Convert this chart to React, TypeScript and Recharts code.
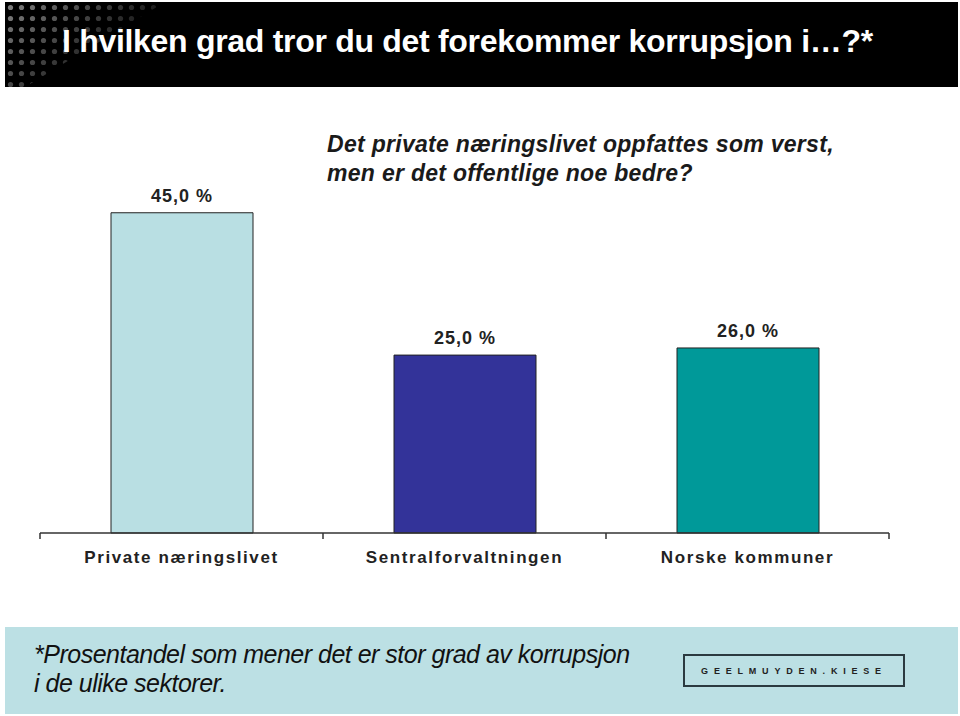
import { BarChart, Bar, XAxis, YAxis, Cell, LabelList } from "recharts";

const categories = ["Private næringslivet", "Sentralforvaltningen", "Norske kommuner"];
const values = [45.0, 25.0, 26.0];
const barColors = ["#B9DFE3", "#333399", "#009999"];

const data = categories.map((name, i) => ({ name, value: values[i] }));

const FONT = "'Liberation Sans', Arial, sans-serif";

const fmt = (v: number) => `${v.toFixed(1).replace(".", ",")} %`;

// category label plus the band-boundary tick marks under the axis line
const CategoryTick = (props: any) => {
  const { x, y, payload, index } = props;
  const half = payload.offset ?? 0;
  return (
    <g>
      {index === 0 && <line x1={x - half} x2={x - half} y1={y} y2={y + 6} stroke="#333" strokeWidth={1.5} />}
      <line x1={x + half} x2={x + half} y1={y} y2={y + 6} stroke="#333" strokeWidth={1.5} />
      <text
        x={x}
        y={y + 30}
        textAnchor="middle"
        fontFamily={FONT}
        fontWeight="bold"
        fontSize={17}
        letterSpacing={1.6}
        fill="#222"
      >
        {payload.value}
      </text>
    </g>
  );
};

const TitleBar = () => (
  <div
    style={{
      position: "absolute",
      left: 5,
      top: 2,
      width: 953,
      height: 85,
      background: "#000",
      overflow: "hidden",
    }}
  >
    <svg width={953} height={85} style={{ position: "absolute", left: 0, top: 0 }}>
      <defs>
        <pattern id="dots" width="11" height="11" patternUnits="userSpaceOnUse">
          <circle cx="5.5" cy="5.5" r="2.6" fill="#9a9a9a" />
        </pattern>
        <linearGradient id="fade" x1="0" y1="0" x2="1" y2="0.55">
          <stop offset="0" stopColor="#fff" stopOpacity={0.85} />
          <stop offset="0.55" stopColor="#fff" stopOpacity={0.35} />
          <stop offset="1" stopColor="#fff" stopOpacity={0} />
        </linearGradient>
        <mask id="dotMask">
          <polygon points="0,0 160,0 20,85 0,85" fill="url(#fade)" />
        </mask>
      </defs>
      <rect x={0} y={0} width={170} height={85} fill="url(#dots)" mask="url(#dotMask)" />
    </svg>
    <div
      style={{
        position: "absolute",
        left: 57,
        top: 20,
        color: "#fff",
        fontFamily: FONT,
        fontWeight: "bold",
        fontSize: 32,
        lineHeight: "38px",
        whiteSpace: "nowrap",
        letterSpacing: -0.3,
      }}
    >
      I hvilken grad tror du det forekommer korrupsjon i…?*
    </div>
  </div>
);

const Footer = () => (
  <div
    style={{
      position: "absolute",
      left: 5,
      top: 627,
      width: 953,
      height: 87,
      background: "#BCE0E4",
    }}
  >
    <div
      style={{
        position: "absolute",
        left: 29,
        top: 13,
        fontFamily: FONT,
        fontStyle: "italic",
        fontSize: 25,
        lineHeight: "29px",
        color: "#111",
        letterSpacing: -0.5,
        whiteSpace: "nowrap",
      }}
    >
      *Prosentandel som mener det er stor grad av korrupsjon
      <br />i de ulike sektorer.
    </div>
    <div
      style={{
        position: "absolute",
        left: 678,
        top: 27,
        width: 218,
        height: 29,
        border: "2px solid #2b3a40",
        display: "flex",
        alignItems: "center",
        justifyContent: "center",
        fontFamily: FONT,
        fontWeight: "bold",
        fontSize: 9,
        letterSpacing: 5.8,
        color: "#222",
      }}
    >
      GEELMUYDEN.KIESE
    </div>
  </div>
);

export default function App() {
  return (
    <div
      style={{
        position: "absolute",
        left: 0,
        top: 0,
        width: 960,
        height: 716,
        background: "#fff",
        overflow: "hidden",
      }}
    >
      <TitleBar />
      <div
        style={{
          position: "absolute",
          left: 327,
          top: 130,
          fontFamily: FONT,
          fontWeight: "bold",
          fontStyle: "italic",
          fontSize: 23,
          lineHeight: "29px",
          letterSpacing: 0.3,
          color: "#1a1a1a",
          whiteSpace: "nowrap",
        }}
      >
        Det private næringslivet oppfattes som verst,
        <br />
        men er det offentlige noe bedre?
      </div>
      <div style={{ position: "absolute", left: 0, top: 0 }}>
        <BarChart
          width={960}
          height={716}
          data={data}
          margin={{ top: 106, right: 71, bottom: 143, left: 40 }}
        >
          <YAxis hide domain={[0, 60]} />
          <XAxis
            dataKey="name"
            height={40}
            tickSize={0}
            tickMargin={0}
            tickLine={false}
            axisLine={{ stroke: "#333", strokeWidth: 1.5 }}
            tick={<CategoryTick />}
            interval={0}
          />
          <Bar dataKey="value" barSize={142} stroke="#222" strokeWidth={1} isAnimationActive={false}>
            {data.map((d, i) => (
              <Cell key={d.name} fill={barColors[i]} />
            ))}
            <LabelList
              dataKey="value"
              position="top"
              offset={11}
              formatter={(v: any) => fmt(Number(v))}
              fontFamily={FONT}
              fontWeight="bold"
              fontSize={18}
              letterSpacing={1}
              fill="#222"
            />
          </Bar>
        </BarChart>
      </div>
      <Footer />
    </div>
  );
}
